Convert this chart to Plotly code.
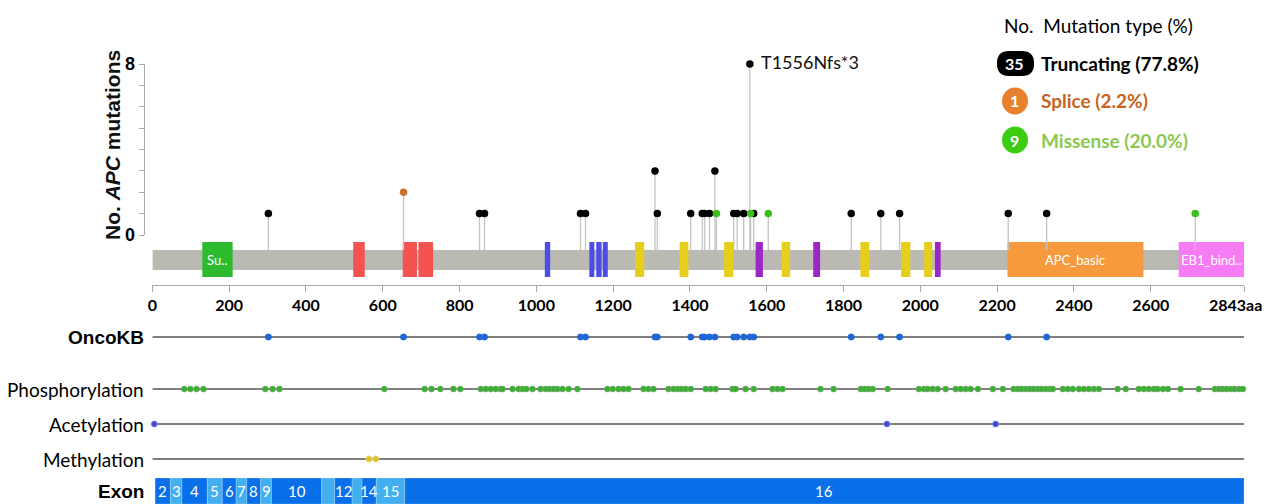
import plotly.graph_objects as go

W, H = 1264, 504
PROTEIN_LENGTH = 2843

# ---------------- data ----------------
truncating_pos = [302, 852, 865, 1115, 1128, 1309, 1315, 1402, 1432, 1438, 1451, 1465,
                  1514, 1523, 1540, 1556, 1566, 1820, 1897, 1946, 2229, 2329]
truncating_count = [1, 1, 1, 1, 1, 3, 1, 1, 1, 1, 1, 3, 1, 1, 1, 8, 1, 1, 1, 1, 1, 1]
splice_pos = [654]
splice_count = [2]
missense_pos = [1469, 1558, 1604, 2716]
missense_count = [1, 1, 1, 1]
top_mutation_label = "T1556Nfs*3"

legend_types = ["Truncating", "Splice", "Missense"]
legend_counts = [35, 1, 9]
legend_pct = [77.8, 2.2, 20.0]

domain_start = [130, 523, 652, 693, 1022, 1138, 1156, 1173, 1257, 1373, 1489, 1571,
                1639, 1721, 1844, 1950, 2010, 2038, 2227, 2673]
domain_end = [209, 553, 689, 731, 1036, 1151, 1170, 1186, 1281, 1396, 1513, 1590,
              1661, 1739, 1867, 1974, 2031, 2053, 2581, 2843]
domain_family = ["Suppressor_APC", "Arm", "Arm", "Arm", "Beta-catenin", "Beta-catenin",
                 "Beta-catenin", "Beta-catenin", "APC_crr", "APC_crr", "APC_crr", "SAMP",
                 "APC_crr", "SAMP", "APC_crr", "APC_crr", "APC_crr", "SAMP",
                 "APC_basic", "EB1_binding"]
domain_label = ["Su..", "", "", "", "", "", "", "", "", "", "", "", "", "", "", "", "",
                "", "APC_basic", "EB1_bind.."]

oncokb_pos = [302, 654, 852, 865, 1115, 1128, 1309, 1315, 1402, 1432, 1438, 1451, 1465,
              1514, 1523, 1540, 1556, 1566, 1820, 1897, 1946, 2229, 2329]
phospho_pos = [83, 99, 115, 133, 294, 313, 331, 604, 709, 727, 750, 784, 802,
               855, 868, 881, 894, 907, 912, 938, 954, 964, 974, 990, 1011, 1024, 1034,
               1045, 1055, 1068, 1084, 1107, 1185, 1199, 1214, 1227, 1240, 1279, 1292,
               1305, 1344, 1357, 1368, 1378, 1389, 1402, 1441, 1454, 1467, 1511, 1519,
               1545, 1566, 1615, 1628, 1641, 1740, 1774, 1845, 1855, 1865, 1876, 1915,
               1996, 2009, 2019, 2032, 2045, 2066, 2092, 2105, 2118, 2131, 2150, 2189,
               2215, 2243, 2254, 2264, 2275, 2285, 2295, 2306, 2316, 2327, 2337, 2345,
               2371, 2384, 2397, 2413, 2426, 2439, 2452, 2465, 2514, 2535, 2569, 2582,
               2595, 2608, 2618, 2632, 2645, 2678, 2725, 2767, 2778, 2788, 2798, 2809,
               2819, 2830, 2840]
acetyl_pos = [5, 1913, 2196]
methyl_pos = [564, 582]

exon_number = [2, 3, 4, 5, 6, 7, 8, 9, 10, 11, 12, 13, 14, 15, 16]
exon_start = [7, 47, 77, 143, 182, 218, 246, 282, 310, 441, 475, 520, 546, 583, 657]
exon_end = [47, 77, 143, 182, 218, 246, 282, 310, 441, 475, 520, 546, 583, 657, 2843]

x_tick_vals = [0, 200, 400, 600, 800, 1000, 1200, 1400, 1600, 1800, 2000, 2200, 2400,
               2600, 2843]
x_tick_text = ["0", "200", "400", "600", "800", "1000", "1200", "1400", "1600", "1800",
               "2000", "2200", "2400", "2600", "2843aa"]
y_tick_vals = [0, 8]

# ---------------- styles / layout ----------------
CAL = "Lato, 'Liberation Sans', sans-serif"
NARROW = "'Liberation Sans Narrow', Lato, sans-serif"
ARIAL = "'Liberation Sans', Arial, sans-serif"

MUT_COLOR = {"Truncating": "#000000", "Splice": "#c8742e", "Missense": "#3cc01e"}
LEGEND_TEXT_COLOR = {"Truncating": "#000000", "Splice": "#c8641e", "Missense": "#8cc850"}
BADGE_COLOR = {"Truncating": "#000000", "Splice": "#e8802e", "Missense": "#3ccc14"}
DOMAIN_COLOR = {"Suppressor_APC": "#2eba2e", "Arm": "#f55252", "Beta-catenin": "#4c4ce8",
                "APC_crr": "#e6cf1c", "SAMP": "#9c26c8", "APC_basic": "#f79a3e",
                "EB1_binding": "#f57cf5"}
EXON_DARK, EXON_LIGHT = "#0a70ea", "#42b0f0"
TICK_FONT = dict(family=NARROW, size=16, color="black", weight="bold")

PX_Y0 = 235.0          # pixel row of count 0
PX_PER_COUNT = 21.375  # pixels per mutation count
X0_PX, X1_PX = 152.4, 1244.0


def yv(py):
    """pixel row -> value on the hidden full-height axis (count units)"""
    return (PX_Y0 - py) / PX_PER_COUNT


def px_x(x):
    return x / W


def px_y(y):
    return 1 - y / H


BAR_TOP, BAR_BOT = yv(250), yv(270)
DOM_TOP, DOM_BOT = yv(242), yv(277)
ROW_ONCOKB, ROW_PHOS, ROW_ACET, ROW_METH = yv(337), yv(389), yv(424), yv(459)
EXON_TOP, EXON_BOT = yv(478), yv(504)

fig = go.Figure()
shapes = []
ann = []


def add_ann(**kw):
    kw.setdefault("showarrow", False)
    kw.setdefault("xanchor", "center")
    kw.setdefault("yanchor", "middle")
    ann.append(kw)


# protein backbone + domains
shapes.append(dict(type="rect", xref="x", yref="y", x0=0, x1=PROTEIN_LENGTH,
                   y0=BAR_BOT, y1=BAR_TOP, fillcolor="#babab3", line=dict(width=0),
                   layer="below"))
for s, e, fam, lab in zip(domain_start, domain_end, domain_family, domain_label):
    shapes.append(dict(type="rect", xref="x", yref="y", x0=s, x1=e, y0=DOM_BOT, y1=DOM_TOP,
                       fillcolor=DOMAIN_COLOR[fam], line=dict(width=0), layer="below"))
    if lab:
        add_ann(x=(s + e) / 2, y=(DOM_TOP + DOM_BOT) / 2, xref="x", yref="y", text=lab,
                font=dict(family=NARROW, size=13, color="white"))

# lollipops
groups = [("Truncating", truncating_pos, truncating_count),
          ("Splice", splice_pos, splice_count),
          ("Missense", missense_pos, missense_count)]
sx, sy = [], []
for _, pos, cnt in groups:
    for p, c in zip(pos, cnt):
        sx += [p, p, None]
        sy += [BAR_TOP, c, None]
fig.add_trace(go.Scatter(x=sx, y=sy, mode="lines", line=dict(color="#c4c4c4", width=1.3),
                         hoverinfo="skip", showlegend=False))
for name, pos, cnt in groups:
    fig.add_trace(go.Scatter(x=pos, y=cnt, mode="markers", name=name, cliponaxis=False,
                             marker=dict(size=7.5, color=MUT_COLOR[name], line=dict(width=0)),
                             showlegend=False))

imax = truncating_count.index(max(truncating_count))
add_ann(x=truncating_pos[imax], y=truncating_count[imax], xref="x", yref="y",
        text=top_mutation_label, xanchor="left", xshift=9, yshift=2,
        font=dict(family=CAL, size=18, color="#111"))

# visible count axis helper trace
fig.add_trace(go.Scatter(x=[0], y=[0], xaxis="x", yaxis="y2", mode="markers",
                         marker=dict(opacity=0), hoverinfo="skip", showlegend=False))

# tracks
for row in [ROW_ONCOKB, ROW_PHOS, ROW_ACET, ROW_METH]:
    shapes.append(dict(type="line", xref="x", yref="y", x0=0, x1=PROTEIN_LENGTH,
                       y0=row, y1=row, line=dict(color="#555555", width=1.6), layer="below"))

tracks = [(oncokb_pos, ROW_ONCOKB, "#1f66d8", "#1f66d8"),
          (phospho_pos, ROW_PHOS, "#34b42a", "rgba(150,150,150,0.55)"),
          (acetyl_pos, ROW_ACET, "#4444d8", "#8888e8"),
          (methyl_pos, ROW_METH, "#dcc22a", "#e8d870")]
for pos, row, col, lcol in tracks:
    fig.add_trace(go.Scatter(x=pos, y=[row] * len(pos), mode="markers", cliponaxis=False,
                             marker=dict(size=6, color=col, line=dict(color=lcol, width=1)),
                             hoverinfo="x", showlegend=False))

track_labels = [("OncoKB", ROW_ONCOKB, True), ("Phosphorylation", ROW_PHOS, False),
                ("Acetylation", ROW_ACET, False), ("Methylation", ROW_METH, False),
                ("Exon", (EXON_TOP + EXON_BOT) / 2, True)]
for txt, row, bold in track_labels:
    add_ann(x=px_x(146), y=row, xref="paper", yref="y", xanchor="right",
            text=f"<b>{txt}</b>" if bold else txt,
            font=dict(family=ARIAL if bold else CAL, size=19, color="black"))

# exons
scale = (X1_PX - X0_PX) / PROTEIN_LENGTH
for n, s, e in zip(exon_number, exon_start, exon_end):
    shapes.append(dict(type="rect", xref="x", yref="y", x0=s, x1=e, y0=EXON_BOT,
                       y1=EXON_TOP, fillcolor=EXON_DARK if n % 2 == 0 else EXON_LIGHT,
                       line=dict(color="rgba(255,255,255,0.35)", width=0.6), layer="below"))
    if len(str(n)) * 7 <= (e - s) * scale:
        add_ann(x=(s + e) / 2, y=(EXON_TOP + EXON_BOT) / 2, xref="x", yref="y",
                text=str(n), font=dict(family=NARROW, size=15, color="white"))

# last tick label (kept inside the page, right-aligned like the reference)
add_ann(x=px_x(1264), y=px_y(304), xref="paper", yref="paper", xanchor="right",
        text=x_tick_text[-1], font=TICK_FONT)
axis_tick_text = x_tick_text[:-1] + [""]

# y title
add_ann(x=px_x(112), y=px_y(145), xref="paper", yref="paper", textangle=-90,
        text="<b>No. <i>APC</i> mutations</b>",
        font=dict(family=ARIAL, size=21, color="#111"))

# legend
add_ann(x=px_x(1002), y=px_y(25), xref="paper", yref="paper", xanchor="left",
        text="No.\u00a0\u00a0Mutation type (%)", font=dict(family=CAL, size=19, color="black"))
legend_rows = [63, 101, 140]
for name, cnt, pct, ry in zip(legend_types, legend_counts, legend_pct, legend_rows):
    if name == "Truncating":
        x0, x1, y0, y1, r = 997, 1034, 51, 76, 12
        path = (f"M {px_x(x0 + r)},{px_y(y0)} L {px_x(x1 - r)},{px_y(y0)} "
                f"Q {px_x(x1)},{px_y(y0)} {px_x(x1)},{px_y(y0 + r)} "
                f"L {px_x(x1)},{px_y(y1 - r)} Q {px_x(x1)},{px_y(y1)} {px_x(x1 - r)},{px_y(y1)} "
                f"L {px_x(x0 + r)},{px_y(y1)} Q {px_x(x0)},{px_y(y1)} {px_x(x0)},{px_y(y1 - r)} "
                f"L {px_x(x0)},{px_y(y0 + r)} Q {px_x(x0)},{px_y(y0)} {px_x(x0 + r)},{px_y(y0)} Z")
        shapes.append(dict(type="path", xref="paper", yref="paper", path=path,
                           fillcolor=BADGE_COLOR[name], line=dict(width=0)))
    else:
        shapes.append(dict(type="circle", xref="paper", yref="paper",
                           x0=px_x(1002), x1=px_x(1028), y0=px_y(ry + 13.5), y1=px_y(ry - 13.5),
                           fillcolor=BADGE_COLOR[name], line=dict(width=0)))
    add_ann(x=px_x(1015), y=px_y(ry), xref="paper", yref="paper", text=f"<b>{cnt}</b>",
            font=dict(family=NARROW, size=16, color="white"))
    add_ann(x=px_x(1039), y=px_y(ry), xref="paper", yref="paper", xanchor="left",
            text=f"<b>{name} ({pct:.1f}%)</b>",
            font=dict(family=CAL, size=19, color=LEGEND_TEXT_COLOR[name]))

fig.update_layout(
    width=W, height=H, autosize=False,
    margin=dict(l=0, r=0, t=0, b=0, pad=0, autoexpand=False),
    paper_bgcolor="white", plot_bgcolor="rgba(0,0,0,0)",
    showlegend=False,
    shapes=shapes, annotations=ann,
    xaxis=dict(domain=[px_x(X0_PX), px_x(X1_PX)], range=[0, PROTEIN_LENGTH],
               anchor="free", position=px_y(285), showline=True, linecolor="#a8a8a8",
               linewidth=1, ticks="outside", ticklen=6, tickcolor="#a8a8a8",
               tickvals=x_tick_vals, ticktext=axis_tick_text, showgrid=False,
               zeroline=False, ticklabeloverflow="allow", automargin=False,
               tickfont=TICK_FONT, fixedrange=True),
    yaxis=dict(domain=[0, 1], range=[yv(H), yv(0)], visible=False, fixedrange=True,
               automargin=False),
    yaxis2=dict(domain=[px_y(PX_Y0), px_y(PX_Y0 - 8 * PX_PER_COUNT)], range=[0, 8],
                anchor="free", position=px_x(143.6), showline=True, linecolor="#a8a8a8",
                ticks="outside", ticklen=5, tickcolor="#a8a8a8", tickvals=y_tick_vals,
                minor=dict(dtick=1, tick0=0, ticks="outside", ticklen=5, tickcolor="#a8a8a8"),
                showgrid=False, zeroline=False, automargin=False,
                tickfont=dict(family=ARIAL, size=18, color="black", weight="bold"),
                fixedrange=True),
)

fig.write_html(
    "out.html",
    config={"displayModeBar": False},
    post_script="document.body.style.margin='0';document.body.style.overflow='hidden';",
)
